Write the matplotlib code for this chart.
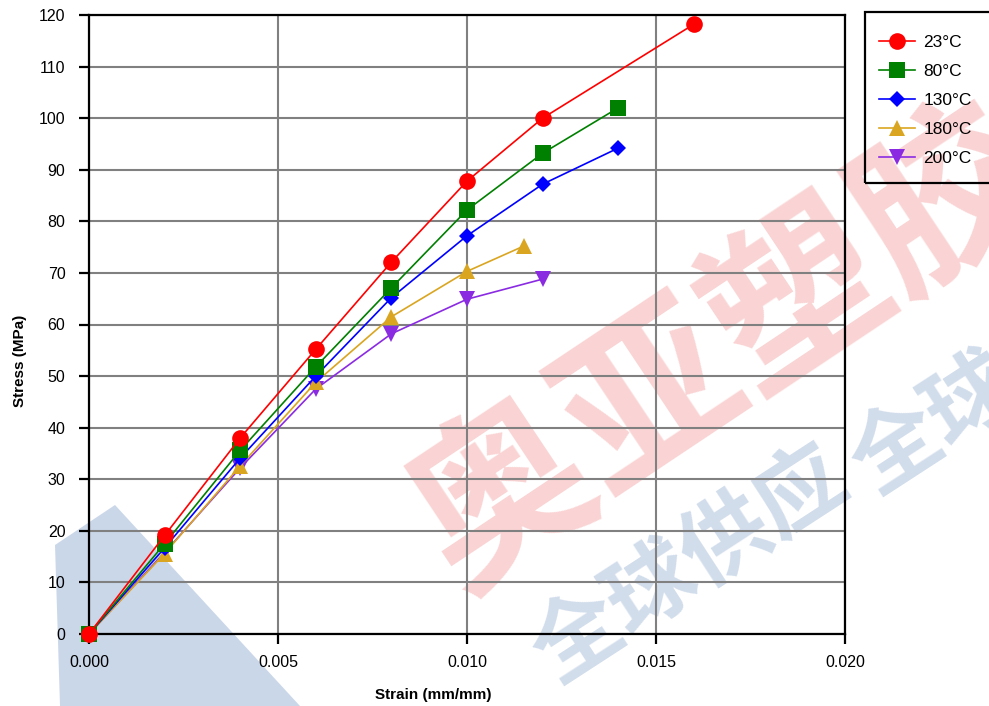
import matplotlib
matplotlib.use("Agg")
import matplotlib.pyplot as plt
from matplotlib.patches import Rectangle, Polygon

plt.rcParams['font.family'] = ['Liberation Sans', 'DejaVu Sans']

# --- data ---
labels = ['23°C', '80°C', '130°C', '180°C', '200°C']

strain_23 = [0, 0.002, 0.004, 0.006, 0.008, 0.010, 0.012, 0.016]
stress_23 = [0, 19.1, 38.0, 55.2, 72.1, 87.8, 100.0, 118.2]

strain_80 = [0, 0.002, 0.004, 0.006, 0.008, 0.010, 0.012, 0.014]
stress_80 = [0, 17.5, 35.6, 51.8, 67.1, 82.2, 93.2, 102.0]

strain_130 = [0, 0.002, 0.004, 0.006, 0.008, 0.010, 0.012, 0.014]
stress_130 = [0, 16.7, 34.1, 50.0, 65.2, 77.2, 87.2, 94.2]

strain_180 = [0, 0.002, 0.004, 0.006, 0.008, 0.010, 0.0115]
stress_180 = [0, 15.6, 32.6, 48.8, 61.5, 70.3, 75.2]

strain_200 = [0, 0.002, 0.004, 0.006, 0.008, 0.010, 0.012]
stress_200 = [0, 15.8, 32.2, 47.5, 58.2, 64.9, 68.8]

xticks = [0.000, 0.005, 0.010, 0.015, 0.020]
yticks = list(range(0, 121, 10))

series = [
    (strain_23, stress_23, '#ff0000', 'o', 12),
    (strain_80, stress_80, '#008000', 's', 11),
    (strain_130, stress_130, '#0000ff', 'D', 8.5),
    (strain_180, stress_180, '#daa520', '^', 11),
    (strain_200, stress_200, '#8a2be2', 'v', 11),
]

fig = plt.figure(figsize=(9.89, 7.06), dpi=100)
W, H = 989, 706

# --- watermark (background decoration) ---
fig.patches.append(Polygon([(55 / W, 1 - 545 / H), (115 / W, 1 - 505 / H),
                            (300 / W, 0), (60 / W, 0)],
                           closed=True, transform=fig.transFigure,
                           facecolor='#2f62a8', alpha=0.25, edgecolor='none', zorder=-2))
fig.text(725 / W, 1 - 350 / H, '奥亚塑胶', fontsize=128, fontweight='bold',
         family=['Noto Sans CJK SC'], color='#e8282a', alpha=0.2,
         rotation=33.7, rotation_mode='anchor', ha='center', va='center', zorder=-1)
fig.text(690 / W, 1 - 565 / H, '全球供应', fontsize=64, fontweight='bold',
         family=['Noto Sans CJK SC'], color='#2f62a8', alpha=0.22,
         rotation=33.0, rotation_mode='anchor', ha='center', va='center', zorder=-1)
fig.text(935 / W, 1 - 425 / H, '全球', fontsize=64, fontweight='bold',
         family=['Noto Sans CJK SC'], color='#2f62a8', alpha=0.22,
         rotation=33.0, rotation_mode='anchor', ha='center', va='center', zorder=-1)

ax = fig.add_axes([89 / W, 1 - 634 / H, (845 - 89) / W, (634 - 15) / H])
ax.set_facecolor('none')

# first series drawn on top, as in the reference
n = len(series)
for i, ((x, y, c, m, ms), lab) in enumerate(zip(series, labels)):
    ax.plot(x, y, color=c, marker=m, markersize=ms, linewidth=1.2,
            markeredgewidth=0, label=lab, clip_on=False, zorder=3 + n - i)

ax.set_xlim(0, 0.020)
ax.set_ylim(0, 120)
ax.set_xticks(xticks)
ax.set_xticklabels([f'{v:.3f}' for v in xticks])
ax.set_yticks(yticks)
ax.grid(True, color='#808080', linewidth=1.5)
ax.set_axisbelow(True)
for s in ax.spines.values():
    s.set_linewidth(1.6)
    s.set_color('black')
ax.tick_params(axis='both', direction='out', length=7, width=1.6, labelsize=11.5)
ax.tick_params(axis='x', pad=8)
ax.tick_params(axis='y', pad=10)

ax.set_xlabel('Strain (mm/mm)', fontsize=11, fontweight='bold')
ax.xaxis.set_label_coords(0.456, -0.087)
ax.set_ylabel('Stress (MPa)', fontsize=11, fontweight='bold')
ax.yaxis.set_label_coords(-0.082, 0.441)

# legend frame runs off the right edge in the reference
fig.patches.append(Rectangle((865 / W, 1 - 183 / H), 140 / W, (183 - 12) / H,
                             transform=fig.transFigure, fill=False,
                             edgecolor='black', linewidth=1.6))
handles, labs = ax.get_legend_handles_labels()
fig.legend(handles, labs, loc='upper left', bbox_to_anchor=(879 / W, 1 - 35 / H),
           frameon=False, fontsize=12.5, handlelength=2.1, handletextpad=0.45,
           labelspacing=0.8, borderaxespad=0, borderpad=0)

fig.savefig('out.png', dpi=100)
